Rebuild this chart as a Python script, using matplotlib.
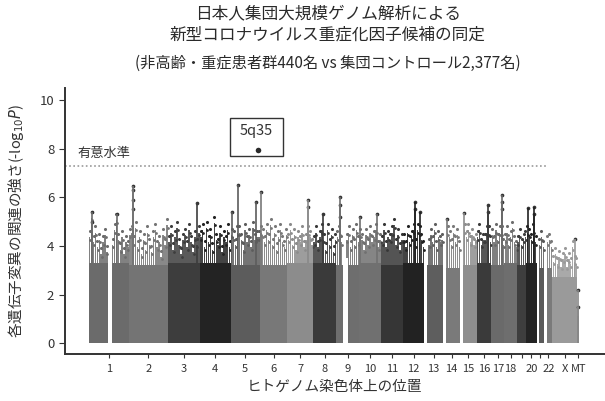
import numpy as np
import matplotlib
matplotlib.use('Agg')
import matplotlib.pyplot as plt
from matplotlib.patches import Rectangle

plt.rcParams['font.family'] = ['Noto Sans CJK JP', 'DejaVu Sans']

# chromosomes, lengths in Mb, height of the dense body of points
chroms = ['1', '2', '3', '4', '5', '6', '7', '8', '9', '10', '11', '12', '13', '14',
          '15', '16', '17', '18', '19', '20', '21', '22', 'X', 'MT']
tick_labels = ['1', '2', '3', '4', '5', '6', '7', '8', '9', '10', '11', '12', '13', '14',
               '15', '16', '17', '18', '', '20', '', '22', 'X', 'MT']
chrom_len = [249, 243, 198, 191, 181, 171, 159, 146, 141, 136, 135, 134, 115, 107,
             103, 90, 81, 78, 59, 63, 48, 51, 155, 12]
body_top = [3.3, 3.2, 3.3, 3.3, 3.2, 3.2, 3.3, 3.3, 3.2, 3.3, 3.2, 3.3, 3.2, 3.1,
            3.2, 3.3, 3.2, 3.3, 3.2, 3.3, 3.1, 3.1, 2.7, 1.1]
grays = ['#6b6b6b', '#747474', '#3d3d3d', '#232323', '#5c5c5c', '#787878', '#8c8c8c', '#3a3a3a',
         '#6e6e6e', '#707070', '#363636', '#222222', '#5e5e5e', '#7a7a7a', '#8e8e8e', '#3a3a3a',
         '#6a6a6a', '#6e6e6e', '#3e3e3e', '#232323', '#5a5a5a', '#7a7a7a', '#9a9a9a', '#888888']

# regions with no markers (centromeres / acrocentric arms)
gap_chrom = ['1', '9', '13', '14', '15', '21', '22']
gap_start = [121, 39, 0, 0, 0, 0, 0]
gap_end = [143, 71, 19, 18, 20, 13, 16]

# top of the scattered points per ~12 Mb window
fringe = [
    [4.6, 5.4, 4.4, 4.8, 4.2, 4.5, 3.9, 4.4, 4.7, 4.0, 0, 0, 4.3, 4.9, 5.3, 4.5, 4.1, 4.6, 3.9, 4.4, 4.2],
    [4.7, 4.8, 4.4, 5.0, 4.2, 4.6, 3.9, 4.5, 4.1, 4.8, 4.3, 4.0, 4.6, 4.9, 4.2, 4.4, 3.8, 4.7, 4.3, 5.1],
    [4.4, 4.8, 4.1, 4.6, 5.0, 4.3, 3.9, 4.5, 4.7, 4.2, 4.9, 4.4, 4.0, 4.6, 4.3, 4.8],
    [4.6, 4.9, 4.2, 5.0, 4.4, 4.7, 4.1, 5.2, 4.5, 4.3, 4.8, 4.0, 4.6, 4.4, 4.9, 4.2],
    [4.7, 4.6, 4.3, 4.8, 4.8, 4.5, 4.1, 4.9, 4.4, 4.7, 4.2, 5.0, 4.5, 4.6, 4.6],
    [4.8, 4.7, 4.4, 4.9, 4.5, 5.1, 4.3, 4.8, 4.1, 4.6, 4.9, 4.4, 4.2, 4.7],
    [4.5, 4.9, 4.3, 4.7, 4.1, 4.6, 4.4, 4.8, 4.2, 4.5, 4.8, 4.6, 4.3],
    [4.4, 4.8, 4.2, 4.6, 4.9, 4.5, 4.1, 4.9, 4.3, 4.7, 4.0, 4.5],
    [4.6, 4.8, 4.4, 0, 0, 4.5, 4.8, 4.2, 4.7, 4.3, 4.9, 4.4],
    [4.7, 4.5, 4.1, 4.7, 4.3, 4.8, 4.4, 4.6, 4.9, 4.2, 4.5],
    [4.4, 4.9, 4.2, 4.6, 4.5, 4.8, 5.1, 4.3, 4.7, 4.1, 4.5],
    [4.5, 4.2, 4.8, 4.4, 4.6, 4.9, 4.3, 4.9, 4.8, 4.5, 4.2],
    [0, 0, 4.3, 4.7, 4.4, 4.9, 4.2, 4.6, 4.4, 4.5],
    [0, 0, 4.8, 4.6, 4.3, 4.8, 4.4, 4.7, 4.2],
    [0, 0, 4.9, 4.6, 4.9, 4.4, 4.7, 4.3, 4.5],
    [4.6, 4.9, 4.3, 4.5, 4.5, 4.8, 4.8, 4.4],
    [4.7, 4.4, 4.9, 4.5, 4.8, 4.8, 4.3],
    [4.5, 4.8, 4.3, 4.6, 5.0, 4.4, 4.2],
    [4.4, 4.7, 4.3, 4.5, 4.6],
    [4.8, 4.7, 4.5, 4.9, 4.4],
    [0, 4.3, 4.6, 4.2],
    [0, 4.4, 4.5, 4.2],
    [3.6, 3.9, 3.5, 3.8, 3.4, 3.7, 3.9, 3.4, 3.7, 3.5, 4.2, 3.6, 3.5],
    [],
]

# taller columns of points
peak_chrom = ['1', '1', '1', '2', '2', '2', '2', '3', '5', '5', '5', '6', '7', '7', '8',
              '9', '9', '9', '10', '10', '12', '12', '12', '14', '15', '16', '16',
              '17', '17', '17', '20', '20', '20', 'X', 'MT', 'MT']
peak_pos = [20, 20, 174, 24, 24, 24, 24, 179, 44, 7, 160, 6, 127, 127, 61,
            21, 21, 21, 4, 110, 75, 75, 105, 25, 25, 69, 69,
            66, 66, 66, 10, 50, 50, 140, 6, 6]
peak_val = [5.4, 5.0, 5.3, 6.45, 6.3, 5.9, 5.5, 5.75, 6.5, 5.4, 5.8, 6.2, 5.9, 5.6, 5.3,
            6.0, 5.7, 5.2, 5.2, 5.3, 5.8, 5.5, 5.4, 5.1, 5.35, 5.7, 5.4,
            6.1, 5.8, 5.5, 5.55, 5.6, 5.3, 4.3, 2.2, 1.5]

hit_chrom = '5'
hit_pos = 170
hit_val = 7.94
threshold = 7.3

starts = np.concatenate([[0], np.cumsum(chrom_len)[:-1]])
centers = starts + np.array(chrom_len) / 2
idx = {c: i for i, c in enumerate(chroms)}

fig = plt.figure(figsize=(6.05, 4.01), dpi=100)
ax = fig.add_axes([0.107, 0.117, 0.893, 0.664])

ax.bar(starts, body_top, width=chrom_len, align='edge', color=grays, linewidth=0)

# ragged band of points above the dense body
for i, vals in enumerate(fringe):
    if len(vals) == 0:
        continue
    vals = np.array(vals)
    w = chrom_len[i] / len(vals)
    xs = starts[i] + (np.arange(len(vals)) + 0.5) * w
    keep = vals > body_top[i]
    ax.bar(xs[keep], vals[keep] - body_top[i] - 0.25, bottom=body_top[i], width=w * 0.75,
           color=grays[i], linewidth=0, alpha=0.85)
    ax.scatter(xs[keep], vals[keep], s=5, color=grays[i], linewidths=0)
    ax.scatter(xs[keep] + w * 0.3, vals[keep] - 0.35, s=4, color=grays[i], linewidths=0)

for c, g0, g1 in zip(gap_chrom, gap_start, gap_end):
    i = idx[c]
    ax.bar(starts[i] + g0, body_top[i] + 0.3, width=g1 - g0, align='edge',
           color='white', linewidth=0)

for c, p, v in zip(peak_chrom, peak_pos, peak_val):
    i = idx[c]
    ax.vlines(starts[i] + p, body_top[i], v, color=grays[i], lw=1.2)
    ax.scatter(starts[i] + p, v, s=7, color='#333333', linewidths=0)

hx = starts[idx[hit_chrom]] + hit_pos
ax.scatter(hx, hit_val, s=16, color='#2a2a2a', linewidths=0, zorder=5)
ax.add_patch(Rectangle((hx - 175, 7.7), 330, 1.55, fill=False, edgecolor='#333333', lw=1.0))
ax.text(hx - 10, 8.72, '5q35', ha='center', va='center', fontsize=10.5, color='#333333')

ax.axhline(threshold, xmin=0, xmax=0.89, color='#999999', lw=1.2, ls=(0, (1, 1.5)))
ax.text(-70, 7.8, '有意水準', fontsize=9.5, color='#333333', va='center', ha='left')

ax.set_xlim(-149, 3205)
ax.set_ylim(-0.45, 10.5)
ax.set_xticks(centers)
ax.set_xticklabels(tick_labels, fontsize=8, color='#333333')
ax.set_yticks([0, 2, 4, 6, 8, 10])
ax.tick_params(axis='y', labelsize=9.5, colors='#333333', length=4)
ax.tick_params(axis='x', length=3, pad=4, colors='#333333')
for s in ['top', 'right']:
    ax.spines[s].set_visible(False)
for s in ['left', 'bottom']:
    ax.spines[s].set_color('#333333')
    ax.spines[s].set_linewidth(1.4)

ax.set_xlabel('ヒトゲノム染色体上の位置', fontsize=10.5, color='#333333', labelpad=4)
ax.set_ylabel('各遺伝子変異の関連の強さ(-log$_{10}$$\\it{P}$)', fontsize=10.5, color='#333333', labelpad=10)

fig.text(0.542, 0.965, '日本人集団大規模ゲノム解析による', ha='center', va='center', fontsize=12, color='#2a2a2a')
fig.text(0.542, 0.913, '新型コロナウイルス重症化因子候補の同定', ha='center', va='center', fontsize=12, color='#2a2a2a')
fig.text(0.542, 0.843, '(非高齢・重症患者群440名 vs 集団コントロール2,377名)', ha='center', va='center',
         fontsize=11, color='#2a2a2a')

fig.savefig('out.png', dpi=100)
